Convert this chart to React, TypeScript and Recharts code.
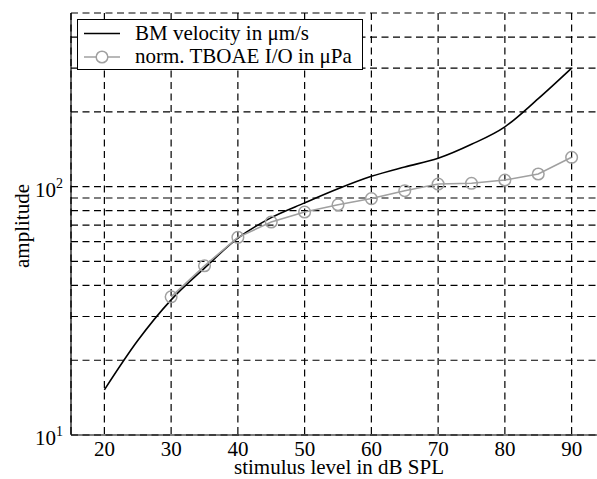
import React from "react";
import { LineChart, Line, XAxis, YAxis, CartesianGrid, Label } from "recharts";

const levels = [20, 25, 30, 35, 40, 45, 50, 55, 60, 65, 70, 75, 80, 85, 90];
const bmVelocity = [15.2, 24, 35, 47, 62, 75, 86, 98, 110, 120, 130, 148, 174, 226, 300];
const tboaeIO: (number | null)[] = [null, null, 36, 48, 62.5, 72, 79, 84.5, 89.5, 96.3, 102.4, 103.1, 106.3, 112.4, 131.2];
const xTicks = [20, 30, 40, 50, 60, 70, 80, 90];
const yTicks = [10, 20, 30, 40, 50, 60, 70, 80, 90, 100, 200, 300, 400];
const yLabeled = [10, 100];
const seriesNames = ["BM velocity in \u03bcm/s", "norm. TBOAE I/O in \u03bcPa"];

const data = levels.map((l, i) => ({ level: l, bm: bmVelocity[i], io: tboaeIO[i] }));

const FONT = "'Liberation Serif', 'Times New Roman', serif";
const FS = 21;
const GRAY = "#a0a0a0";

const YTick = (props: any) => {
  const { x, y, payload } = props;
  const v = payload.value;
  if (!yLabeled.includes(v)) return null;
  const exp = Math.round(Math.log10(v));
  return (
    <text x={x} y={y} dy={10} textAnchor="end" fontFamily={FONT} fontSize={FS} fill="#000">
      <tspan>10</tspan>
      <tspan dy={-9} fontSize={14}>{exp}</tspan>
    </text>
  );
};

const XTick = (props: any) => {
  const { x, y, payload } = props;
  return (
    <text x={x} y={y} dy={13} textAnchor="middle" fontFamily={FONT} fontSize={FS} fill="#000">
      {payload.value}
    </text>
  );
};

export default function App() {
  return (
    <div style={{ position: "fixed", left: 0, top: 0, width: 597, height: 479, overflow: "hidden", background: "#fff" }}>
      <LineChart width={620} height={479} data={data} margin={{ top: 13, right: 15, bottom: 0, left: 0 }}>
        <CartesianGrid stroke="#000" strokeWidth={1.2} strokeDasharray="7 4.5" />
        <XAxis
          dataKey="level"
          type="number"
          domain={[15, 95]}
          ticks={xTicks}
          allowDataOverflow
          height={44}
          tickSize={0}
          tickMargin={8}
          tick={<XTick />}
          axisLine={{ stroke: "#000", strokeWidth: 1.2 }}
          tickLine={false}
        >
          <Label
            content={(p: any) => {
              const vb = p.viewBox;
              return (
                <text x={vb.x + vb.width / 2 + 1} y={474} textAnchor="middle" fontFamily={FONT} fontSize={FS} fill="#000">
                  stimulus level in dB SPL
                </text>
              );
            }}
          />
        </XAxis>
        <XAxis
          xAxisId="top"
          orientation="top"
          dataKey="level"
          type="number"
          domain={[15, 95]}
          ticks={xTicks}
          height={0}
          tick={false}
          tickLine={false}
          axisLine={{ stroke: "#000", strokeWidth: 1.2 }}
        />
        <YAxis
          scale="log"
          type="number"
          domain={[10, 500]}
          ticks={yTicks}
          allowDataOverflow
          width={71}
          tickSize={0}
          tickMargin={8}
          tick={<YTick />}
          tickLine={false}
          interval={0}
          axisLine={{ stroke: "#000", strokeWidth: 1.2 }}
        >
          <Label
            content={() => (
              <text x={29} y={226} transform="rotate(-90 29 226)" textAnchor="middle" fontFamily={FONT} fontSize={FS} fill="#000">
                amplitude
              </text>
            )}
          />
        </YAxis>
        <Line
          dataKey="bm"
          type="monotone"
          stroke="#000"
          strokeWidth={1.6}
          dot={false}
          isAnimationActive={false}
        />
        <Line
          dataKey="io"
          type="linear"
          stroke={GRAY}
          strokeWidth={1.6}
          dot={{ r: 5.8, stroke: GRAY, strokeWidth: 1.5, fill: "none" }}
          connectNulls={false}
          isAnimationActive={false}
        />
      </LineChart>
      <div
        style={{
          position: "absolute",
          left: 77,
          top: 19,
          width: 284,
          height: 49,
          border: "1px solid #000",
          background: "#fff",
        }}
      >
        <svg width={284} height={49} style={{ display: "block" }}>
          <line x1={6} x2={42} y1={13.5} y2={13.5} stroke="#000" strokeWidth={1.6} />
          <text x={57} y={19.5} fontFamily={FONT} fontSize={FS} fill="#000">{seriesNames[0]}</text>
          <line x1={6} x2={42} y1={37} y2={37} stroke={GRAY} strokeWidth={1.6} />
          <circle cx={24} cy={37} r={5.8} stroke={GRAY} strokeWidth={1.5} fill="#fff" />
          <text x={57} y={43} fontFamily={FONT} fontSize={FS} fill="#000">{seriesNames[1]}</text>
        </svg>
      </div>
    </div>
  );
}
